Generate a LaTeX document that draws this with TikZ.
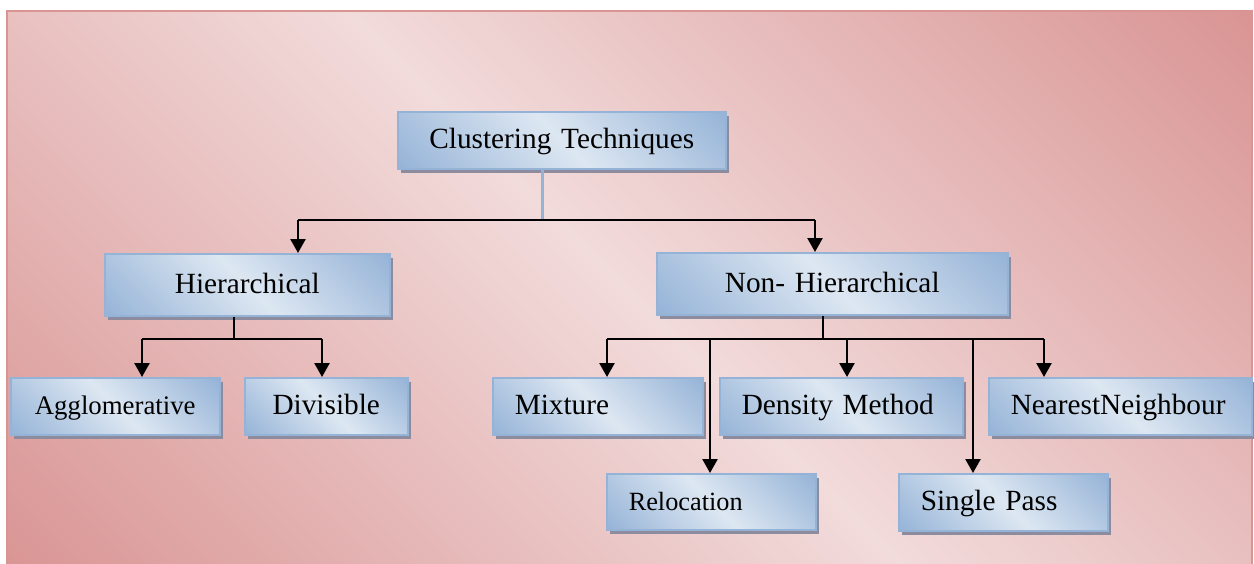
\documentclass[tikz,border=0pt]{standalone}
\usepackage{fontspec}
\setmainfont{Liberation Serif}
\usetikzlibrary{arrows.meta,shadows}
\definecolor{bgdark}{HTML}{D99594}
\definecolor{bglight}{HTML}{F2DBDB}
\definecolor{boxdark}{HTML}{95B3D7}
\definecolor{boxlight}{HTML}{DDE7F2}
\definecolor{boxedge}{HTML}{95B3D7}
\definecolor{shadowc}{HTML}{8C8C9E}
\definecolor{frameedge}{HTML}{D99594}
\pgfdeclarehorizontalshading{bgsh}{100bp}{color(0bp)=(bgdark); color(14.6bp)=(bgdark); color(50bp)=(bglight); color(85.4bp)=(bgdark); color(100bp)=(bgdark)}
\pgfdeclarehorizontalshading{boxsh}{100bp}{color(0bp)=(boxdark); color(14.6bp)=(boxdark); color(50bp)=(boxlight); color(85.4bp)=(boxdark); color(100bp)=(boxdark)}
\tikzset{
  box/.style={draw=boxedge, line width=1.5pt, shade, shading=boxsh, shading angle=45,
    inner xsep=22pt, inner ysep=0pt, anchor=north west, align=left,
    text height=22pt, text depth=4.6pt,
    drop shadow={shadow xshift=3.5pt, shadow yshift=-4pt, fill=shadowc, opacity=1},
    font=\fontsize{29.3}{34}\selectfont},
  cbox/.style={box, inner xsep=0pt, align=center},
  conn/.style={draw=black, line width=2.5pt},
  arr/.style={conn, -{Triangle[width=15pt,length=14pt]}},
  blueline/.style={draw=boxedge, line width=3pt}
}
\begin{document}
\begin{tikzpicture}[x=1pt,y=-1pt]
\useasboundingbox (0,0) rectangle (1254,563);
\begin{scope}
\clip (0,0) rectangle (1254,563);
\shade[shading=bgsh, shading angle=45, draw=frameedge, line width=2pt] (7,11) rectangle (1252,575);
\end{scope}

% nodes
\node[cbox, text width=328pt, minimum height=57pt] (C) at (397,111) {Clustering Techniques};
\node[cbox, text width=285pt, minimum height=62pt] (H) at (104,253) {Hierarchical};
\node[cbox, text width=351pt, minimum height=62pt] (N) at (656,252) {Non- Hierarchical};
\node[cbox, text width=209pt, minimum height=57pt, font=\fontsize{26.8}{32}\selectfont] (A) at (10,377) {Agglomerative};
\node[cbox, text width=163pt, minimum height=57pt] (D) at (244,377) {Divisible};
\node[box, text width=166pt, minimum height=57pt] (M) at (492,377) {Mixture};
\node[box, text width=199pt, minimum height=57pt] (De) at (719,377) {Density Method};
\node[box, text width=219pt, minimum height=57pt] (Ne) at (988,377) {NearestNeighbour};
\node[box, text width=165pt, minimum height=56pt, font=\fontsize{26.3}{32}\selectfont] (R) at (606,473) {Relocation};
\node[box, text width=165pt, minimum height=57pt] (S) at (898,473) {Single Pass};

% level 1 connectors
\coordinate (j0) at (542,220);
\coordinate (jH) at (298,220);
\coordinate (jN) at (815,220);
\draw[blueline] (C.south -| j0) -- (j0);
\draw[conn] (jH) -- (jN);
\draw[arr] (jH) -- (jH |- H.north);
\draw[arr] (jN) -- (jN |- N.north);

% hierarchical children
\coordinate (h0) at (234,339);
\coordinate (hA) at (142,339);
\coordinate (hD) at (322,339);
\draw[conn] (H.south -| h0) -- (h0);
\draw[conn] (hA) -- (hD);
\draw[arr] (hA) -- (hA |- A.north);
\draw[arr] (hD) -- (hD |- D.north);

% non-hierarchical children
\coordinate (n0) at (823,339);
\coordinate (nM) at (607,339);
\coordinate (nR) at (710,339);
\coordinate (nDe) at (847,339);
\coordinate (nS) at (973,339);
\coordinate (nNe) at (1044,339);
\draw[conn] (N.south -| n0) -- (n0);
\draw[conn] (nM) -- (nNe);
\draw[arr] (nM) -- (nM |- M.north);
\draw[arr] (nR) -- (nR |- R.north);
\draw[arr] (nDe) -- (nDe |- De.north);
\draw[arr] (nS) -- (nS |- S.north);
\draw[arr] (nNe) -- (nNe |- Ne.north);
\end{tikzpicture}
\end{document}
